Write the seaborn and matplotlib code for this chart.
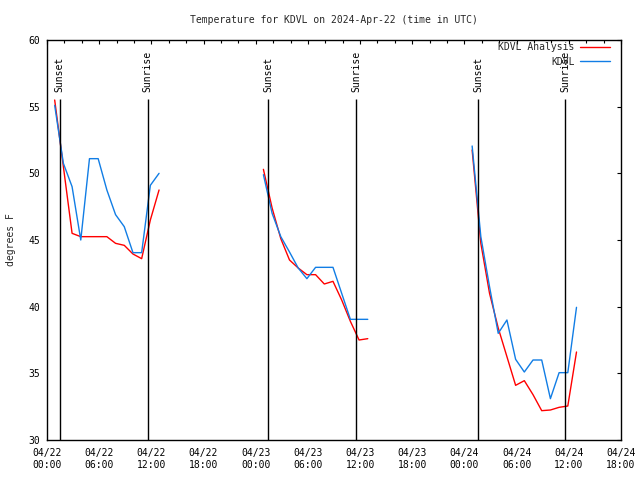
import pandas as pd
import matplotlib
matplotlib.use("Agg")
import matplotlib.pyplot as plt
import matplotlib.dates as mdates
import seaborn as sns

# -----------------------------
# Data
# -----------------------------
day_starts = ["2024-04-22 00:53", "2024-04-23 00:53", "2024-04-24 00:53"]

analysis_d1 = [55.5, 50.5, 45.5, 45.25, 45.25, 45.25, 45.25, 44.75, 44.6, 43.95, 43.6, 46.5, 48.75]
observed_d1 = [55.1, 50.75, 49.0, 45.0, 51.1, 51.1, 48.75, 46.9, 46.0, 44.05, 44.05, 49.1, 50.0]

analysis_d2 = [50.3, 47.4, 45.1, 43.5, 42.9, 42.4, 42.4, 41.7, 41.9, 40.5, 38.9, 37.5, 37.6]
observed_d2 = [49.9, 47.0, 45.25, 44.1, 42.9, 42.1, 42.95, 42.95, 42.95, 41.0, 39.05, 39.05, 39.05]

analysis_d3 = [51.75, 44.75, 41.0, 38.4, 36.25, 34.1, 34.45, 33.4, 32.2, 32.25, 32.45, 32.55, 36.6]
observed_d3 = [52.05, 45.25, 41.5, 38.0, 39.0, 36.05, 35.1, 36.0, 36.0, 33.1, 35.05, 35.05, 39.95]

sunset_times = ["2024-04-22 01:27", "2024-04-23 01:28", "2024-04-24 01:33"]
sunrise_times = ["2024-04-22 11:34", "2024-04-23 11:33", "2024-04-24 11:35"]

series_names = ["KDVL Analysis", "KDVL"]
series_colors = {"KDVL Analysis": "#ff0000", "KDVL": "#117de5"}

# -----------------------------
# Long table for seaborn
# -----------------------------
analysis = [analysis_d1, analysis_d2, analysis_d3]
observed = [observed_d1, observed_d2, observed_d3]

frames = []
for day, (start, ana, obs) in enumerate(zip(day_starts, analysis, observed)):
    times = pd.date_range(start, periods=len(ana), freq="h")
    frames.append(pd.DataFrame({"time": times, "temp": ana,
                                "series": series_names[0], "day": day}))
    frames.append(pd.DataFrame({"time": times, "temp": obs,
                                "series": series_names[1], "day": day}))
df = pd.concat(frames, ignore_index=True)

# -----------------------------
# Plot
# -----------------------------
sns.set_theme(style="white")
plt.rcParams["font.family"] = ["DejaVu Sans Mono"]
plt.rcParams["font.size"] = 7

fig = plt.figure(figsize=(6.4, 4.8), dpi=100)
ax = fig.add_axes([47 / 640, 40 / 480, 574 / 640, 400 / 480])

sns.lineplot(data=df, x="time", y="temp", hue="series", hue_order=series_names,
             units="day", estimator=None, palette=series_colors,
             linewidth=1.0, ax=ax)

# sunset / sunrise markers
for label, times in [("Sunset", sunset_times), ("Sunrise", sunrise_times)]:
    for t in pd.to_datetime(times):
        ax.vlines(t, 30, 55.55, color="black", linewidth=1.0)
        ax.text(t, 56.1, label, rotation=90, ha="center", va="bottom",
                fontsize=7, color="black")

ax.set_xlim(pd.Timestamp("2024-04-22 00:00"), pd.Timestamp("2024-04-24 18:00"))
ax.set_ylim(30, 60)
ax.set_yticks(range(30, 61, 5))

ax.xaxis.set_major_locator(mdates.HourLocator(byhour=[0, 6, 12, 18]))
ax.xaxis.set_major_formatter(mdates.DateFormatter("%m/%d\n%H:%M"))
ax.xaxis.set_minor_locator(mdates.HourLocator(byhour=range(0, 24, 2)))

ax.tick_params(axis="both", which="both", direction="in", top=True, right=True,
               color="black", width=0.8, labelsize=7, labelcolor="black")
ax.tick_params(axis="x", which="major", length=3, pad=6)
ax.tick_params(axis="x", which="minor", length=2.5)
ax.tick_params(axis="y", which="major", length=3, pad=5)
for lbl in ax.get_xticklabels():
    lbl.set_horizontalalignment("center")

for sp in ax.spines.values():
    sp.set_color("black")
    sp.set_linewidth(1.0)

ax.set_xlabel("")
ax.set_ylabel("degrees F", fontsize=7)
ax.yaxis.set_label_coords(-0.054, 0.5)
ax.set_title("Temperature for KDVL on 2024-Apr-22 (time in UTC)", fontsize=7, pad=12)

handles, labels = ax.get_legend_handles_labels()
ax.legend(handles, labels, loc="upper right", bbox_to_anchor=(0.985, 1.0),
          markerfirst=False, frameon=False, fontsize=7, handlelength=3.1,
          handletextpad=0.6, borderaxespad=0, borderpad=0.2, labelspacing=0.5)

fig.savefig("out.png", dpi=100)
plt.close(fig)
